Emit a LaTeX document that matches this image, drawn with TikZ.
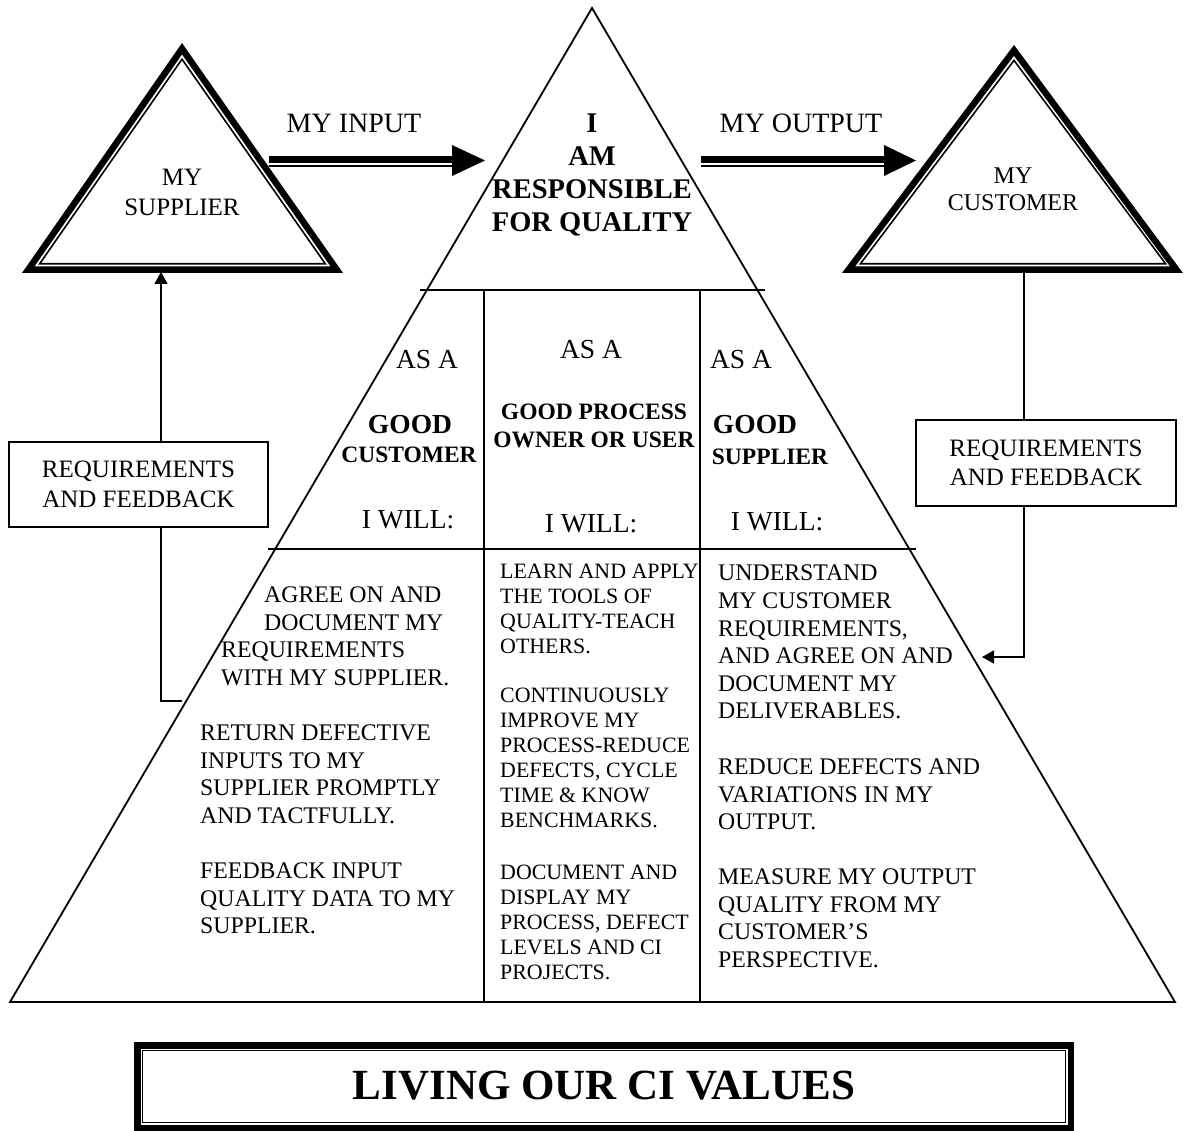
\documentclass[tikz,border=0pt]{standalone}
\usepackage{fontspec}
\setmainfont{Liberation Serif}
\usetikzlibrary{arrows.meta}
\newcommand{\fsz}[2]{\fontsize{#1}{#2}\selectfont}

\begin{document}
\begin{tikzpicture}[x=1pt,y=-1pt,
  edge/.style={line width=1.8pt, line join=miter},
  heavy/.style={line width=6.5pt, line join=miter, miter limit=10},
  fine/.style={line width=1.6pt, line join=miter},
  feed/.style={fine, -{Triangle[length=12pt,width=13pt]}},
  txt/.style={inner sep=0pt, align=left, anchor=north west},
  body/.style={txt, font=\fsz{23.8}{27.4}},
  bodysm/.style={txt, font=\fsz{21.9}{25}},
  hdr/.style={inner sep=0pt, font=\fsz{27.5}{32}},
  hdrbig/.style={inner sep=0pt, font=\bfseries\fsz{27.5}{32}},
  hdrb/.style={inner sep=0pt, align=center, font=\bfseries\fsz{23.5}{28}},
  reqbox/.style={draw, fine, fill=white, inner sep=0pt, align=center,
                 font=\fsz{25}{29.5}},
]
\useasboundingbox (0,0) rectangle (1184,1131);

% ---------- main pyramid ----------
\coordinate (apex) at (592,8);
\coordinate (bl) at (10,1002);
\coordinate (br) at (1175,1002);
\draw[edge] (bl) -- (apex) -- (br) -- cycle;
\coordinate (h1a) at (420,290);  \coordinate (h1b) at (765,290);
\coordinate (h2a) at (268,549);  \coordinate (h2b) at (916,549);
\coordinate (v1a) at (484,290);  \coordinate (v1b) at (484,1002);
\coordinate (v2a) at (700,290);  \coordinate (v2b) at (700,1002);
\draw[edge] (h1a) -- (h1b);
\draw[edge] (h2a) -- (h2b);
\draw[edge] (v1a) -- (v1b);
\draw[edge] (v2a) -- (v2b);

\node[anchor=north, align=center, inner sep=0pt, font=\bfseries\fsz{28.5}{33}]
  (resp) at (592,113.5) {I\\AM\\RESPONSIBLE\\FOR QUALITY};

% ---------- supplier and customer triangles ----------
\draw[heavy] (28.2,269.75) -- (182,48.7) -- (336.8,269.75) -- cycle;
\draw[fine]  (39.7,263.75) -- (182,59.2) -- (325.3,263.75) -- cycle;
\node[anchor=north, align=center, inner sep=0pt, font=\fsz{25}{30}]
  (supplier) at (182,168.5) {MY\\SUPPLIER};

\draw[heavy] (848.5,269.75) -- (1014,50.4) -- (1176.5,269.75) -- cycle;
\draw[fine]  (860.4,263.75) -- (1014,60.4) -- (1165.6,263.75) -- cycle;
\node[anchor=north, align=center, inner sep=0pt, font=\fsz{24}{27}]
  (customer) at (1013,168) {MY\\CUSTOMER};

% ---------- input / output arrows ----------
\node[inner sep=0pt, font=\fsz{28}{32}] (inlabel) at (354,123) {MY INPUT};
\node[inner sep=0pt, font=\fsz{28}{32}] (outlabel) at (801,123) {MY OUTPUT};

\coordinate (inS) at (269,159.5);   \coordinate (inE) at (454,159.5);
\coordinate (inS2) at (269,166);    \coordinate (inE2) at (454,166);
\draw[line width=7pt] (inS) -- (inE);
\draw[line width=1.7pt] (inS2) -- (inE2);
\fill (452,145) -- (485,160.5) -- (452,176) -- cycle;

\coordinate (outS) at (701,159.5);  \coordinate (outE) at (886,159.5);
\coordinate (outS2) at (701,166);   \coordinate (outE2) at (886,166);
\draw[line width=7pt] (outS) -- (outE);
\draw[line width=1.7pt] (outS2) -- (outE2);
\fill (884,145) -- (916,160.5) -- (884,176) -- cycle;

% ---------- feedback loops ----------
\coordinate (lfoot) at (182,701);
\coordinate (lturn) at (161,701);
\coordinate (ltip)  at (161,272);
\coordinate (rtop)  at (1024,273);
\coordinate (rturn) at (1024,657);
\coordinate (rtip)  at (982,657);

\node[reqbox, minimum width=259pt, minimum height=85pt] (lbox) at (138.5,484.5)
  {REQUIREMENTS\\AND FEEDBACK};
\node[reqbox, minimum width=260pt, minimum height=86pt] (rbox) at (1046,463)
  {REQUIREMENTS\\AND FEEDBACK};

\draw[fine] (lfoot) -- (lturn) -- (lturn |- lbox.south);
\draw[feed] (lturn |- lbox.north) -- (ltip);
\draw[fine] (rtop) -- (rtop |- rbox.north);
\draw[feed] (rtop |- rbox.south) -- (rturn) -- (rtip);

% ---------- role headers ----------
\node[hdr] (asa1) at (427,360) {AS A};
\node[hdrbig] (good1) at (410,425) {GOOD};
\node[hdrb] (cust1) at (409,455) {CUSTOMER};
\node[hdr] (will1) at (408,520) {I WILL:};

\node[hdr] (asa2) at (591,350) {AS A};
\node[hdrb] (good2) at (594,426) {GOOD PROCESS\\OWNER OR USER};
\node[hdr] (will2) at (591,524) {I WILL:};

\node[hdr] (asa3) at (741,360) {AS A};
\node[hdrbig] (good3) at (755,425) {GOOD};
\node[hdrb] (supp3) at (770,457) {SUPPLIER};
\node[hdr] (will3) at (777,522) {I WILL:};

% ---------- commitments ----------
\node[body] (c1) at (221,587)
  {\hspace*{43pt}AGREE ON AND\\\hspace*{43pt}DOCUMENT MY\\REQUIREMENTS\\WITH MY SUPPLIER.};
\node[body] (c2) at (200,725)
  {RETURN DEFECTIVE\\INPUTS TO MY\\SUPPLIER PROMPTLY\\AND TACTFULLY.};
\node[body] (c3) at (200,863)
  {FEEDBACK INPUT\\QUALITY DATA TO MY\\SUPPLIER.};

\node[bodysm] (p1) at (500,564)
  {LEARN AND APPLY\\THE TOOLS OF\\QUALITY-TEACH\\OTHERS.};
\node[bodysm] (p2) at (500,688)
  {CONTINUOUSLY\\IMPROVE MY\\PROCESS-REDUCE\\DEFECTS, CYCLE\\TIME \& KNOW\\BENCHMARKS.};
\node[bodysm] (p3) at (500,865)
  {DOCUMENT AND\\DISPLAY MY\\PROCESS, DEFECT\\LEVELS AND CI\\PROJECTS.};

\node[body, font=\fsz{23.8}{27.6}] (s1) at (718,565)
  {UNDERSTAND\\MY CUSTOMER\\REQUIREMENTS,\\AND AGREE ON AND\\DOCUMENT MY\\DELIVERABLES.};
\node[body] (s2) at (718,759)
  {REDUCE DEFECTS AND\\VARIATIONS IN MY\\OUTPUT.};
\node[body] (s3) at (718,869)
  {MEASURE MY OUTPUT\\QUALITY FROM MY\\CUSTOMER’S\\PERSPECTIVE.};

% ---------- title banner ----------
\draw[line width=6.5pt] (137.25,1045.25) rectangle (1070.75,1127.75);
\draw[line width=1.6pt] (142.5,1050.5) rectangle (1065.5,1122.5);
\node[inner sep=0pt, font=\bfseries\fsz{43}{50}] (title) at (604,1086)
  {LIVING OUR CI VALUES};
\end{tikzpicture}
\end{document}
